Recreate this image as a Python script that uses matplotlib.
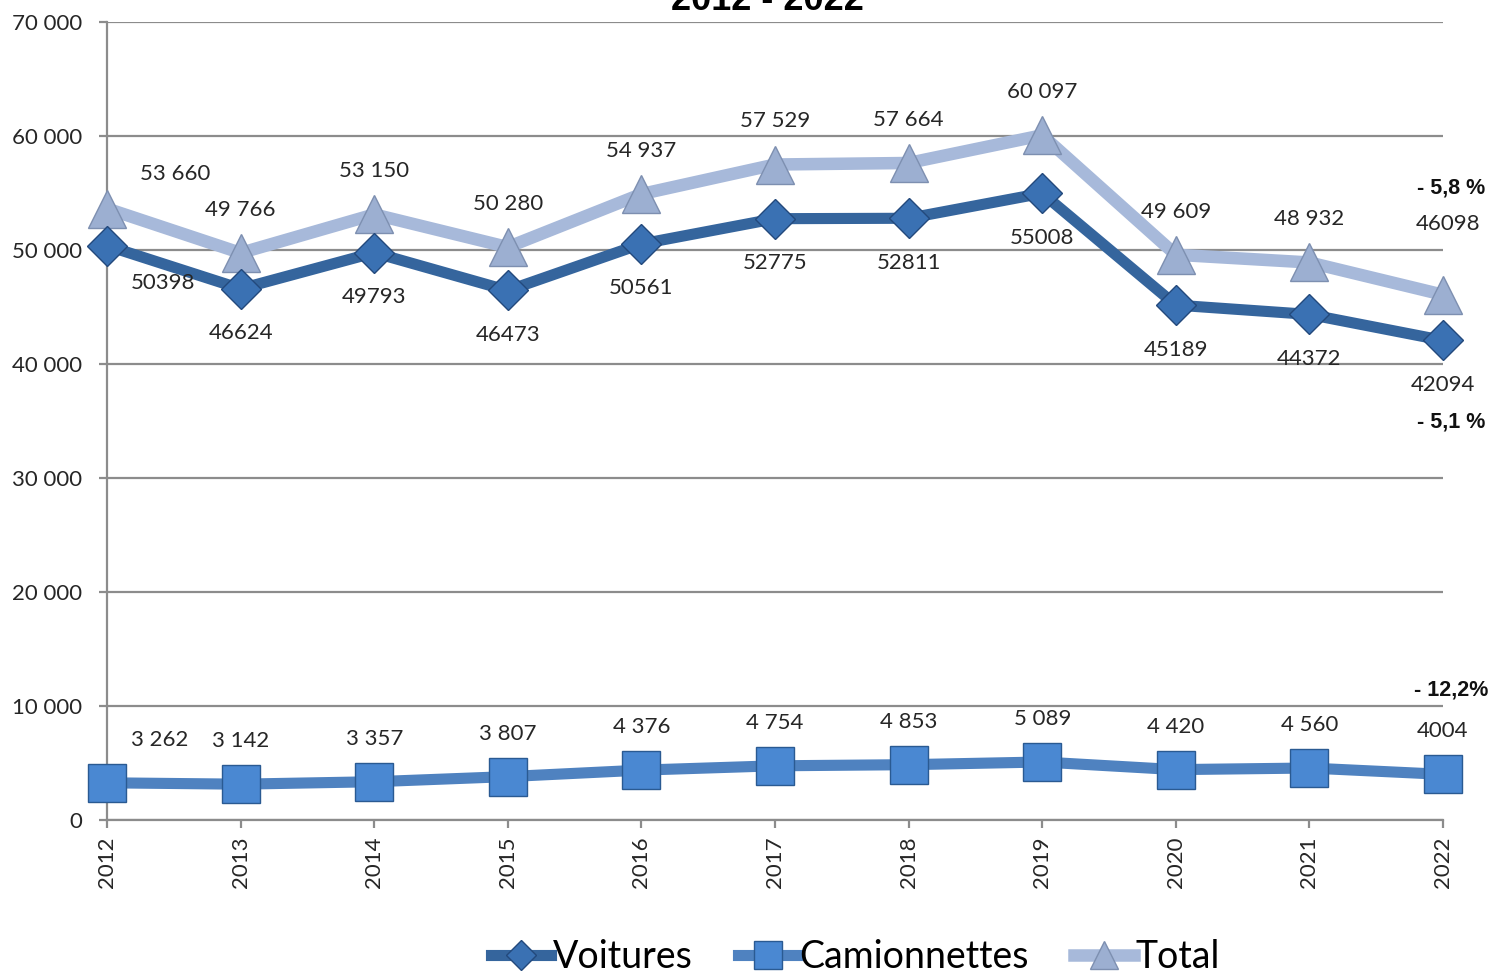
import matplotlib.pyplot as plt
from matplotlib.ticker import FuncFormatter

years = [2012, 2013, 2014, 2015, 2016, 2017, 2018, 2019, 2020, 2021, 2022]
voitures = [50398, 46624, 49793, 46473, 50561, 52775, 52811, 55008, 45189, 44372, 42094]
camionnettes = [3262, 3142, 3357, 3807, 4376, 4754, 4853, 5089, 4420, 4560, 4004]
total = [53660, 49766, 53150, 50280, 54937, 57529, 57664, 60097, 49609, 48932, 46098]

voitures_labels = ["50398", "46624", "49793", "46473", "50561", "52775", "52811",
                   "55008", "45189", "44372", "42094"]
camionnettes_labels = ["3 262", "3 142", "3 357", "3 807", "4 376", "4 754", "4 853",
                       "5 089", "4 420", "4 560", "4004"]
total_labels = ["53 660", "49 766", "53 150", "50 280", "54 937", "57 529", "57 664",
                "60 097", "49 609", "48 932", "46098"]

changes = ["- 5,8 %", "- 5,1 %", "- 12,2%"]
change_y = [55500, 34900, 11400]

FONT = "Lato"
GRID = "#8c8c8c"


def thousands(v, pos=None):
    return f"{int(v):,}".replace(",", " ")


def main():
    fig = plt.figure(figsize=(14.93, 9.75), dpi=100)
    ax = fig.add_axes([0.0717, 0.159, 0.8948, 0.818])

    # lines
    ax.plot(years, total, color="#a7b9da", lw=9, marker="^", ms=27,
            mfc="#9cafd1", mec="#7d8fb0", mew=1, label="Total",
            zorder=3, clip_on=False)
    ax.plot(years, voitures, color="#35659d", lw=8, marker="D", ms=20,
            mfc="#3a71b3", mec="#23497c", mew=1, label="Voitures",
            zorder=4, clip_on=False)
    ax.plot(years, camionnettes, color="#4f82c0", lw=8, marker="s", ms=27,
            mfc="#4a88d2", mec="#2a5a92", mew=1, label="Camionnettes",
            zorder=4, clip_on=False)

    # data labels (offsets in points)
    lab = dict(fontsize=16, family=FONT, color="#262626", ha="center", va="center",
               textcoords="offset points", zorder=6)
    for i, y in enumerate(years):
        dx_t, dy_t = (49, 25) if i == 0 else ((4, 51) if i == len(years) - 1 else (0, 31))
        ax.annotate(total_labels[i], (y, total[i]), xytext=(dx_t, dy_t), **lab)
        dx_v = 40 if i == 0 else 0
        dy_v = -27 if i == 0 else -32
        ax.annotate(voitures_labels[i], (y, voitures[i]), xytext=(dx_v, dy_v), **lab)
        dx_c = 38 if i == 0 else 0
        ax.annotate(camionnettes_labels[i], (y, camionnettes[i]), xytext=(dx_c, 31), **lab)

    for txt, yy in zip(changes, change_y):
        ax.text(2022.06, yy, txt, fontsize=15.5, fontweight="bold", family="Liberation Sans",
                ha="center", va="center", color="#111111")

    ax.set_xlim(2012, 2022)
    ax.set_ylim(0, 70000)
    ax.set_xticks(years)
    ax.set_xticklabels([str(y) for y in years], rotation=90, fontsize=16, family=FONT,
                       color="#262626")
    ax.set_yticks(range(0, 70001, 10000))
    ax.yaxis.set_major_formatter(FuncFormatter(thousands))
    for t in ax.get_yticklabels():
        t.set_fontsize(16)
        t.set_family(FONT)
        t.set_color("#262626")

    ax.grid(axis="y", color=GRID, lw=1.6)
    ax.set_axisbelow(True)
    for s in ["top", "right"]:
        ax.spines[s].set_visible(False)
    for s in ["left", "bottom"]:
        ax.spines[s].set_color(GRID)
        ax.spines[s].set_linewidth(1.6)
    ax.tick_params(axis="both", color=GRID, width=1.6, length=6)
    ax.tick_params(axis="y", pad=12)
    ax.tick_params(axis="x", pad=6)

    # title sits mostly above the canvas, as in the original
    fig.text(0.514, 0.9897, "2012 - 2022", fontsize=26, fontweight="bold",
             family="Liberation Sans", ha="center", va="baseline")

    handles, labels = ax.get_legend_handles_labels()
    order = [1, 2, 0]
    fig.legend([handles[i] for i in order], [labels[i] for i in order],
               loc="center", bbox_to_anchor=(0.573, 0.018), ncol=3, frameon=False,
               prop={"family": FONT, "size": 27}, handlelength=1.6,
               handletextpad=0.05, columnspacing=1.2, markerscale=0.75)

    fig.savefig("out.png", dpi=100)


if __name__ == "__main__":
    main()
